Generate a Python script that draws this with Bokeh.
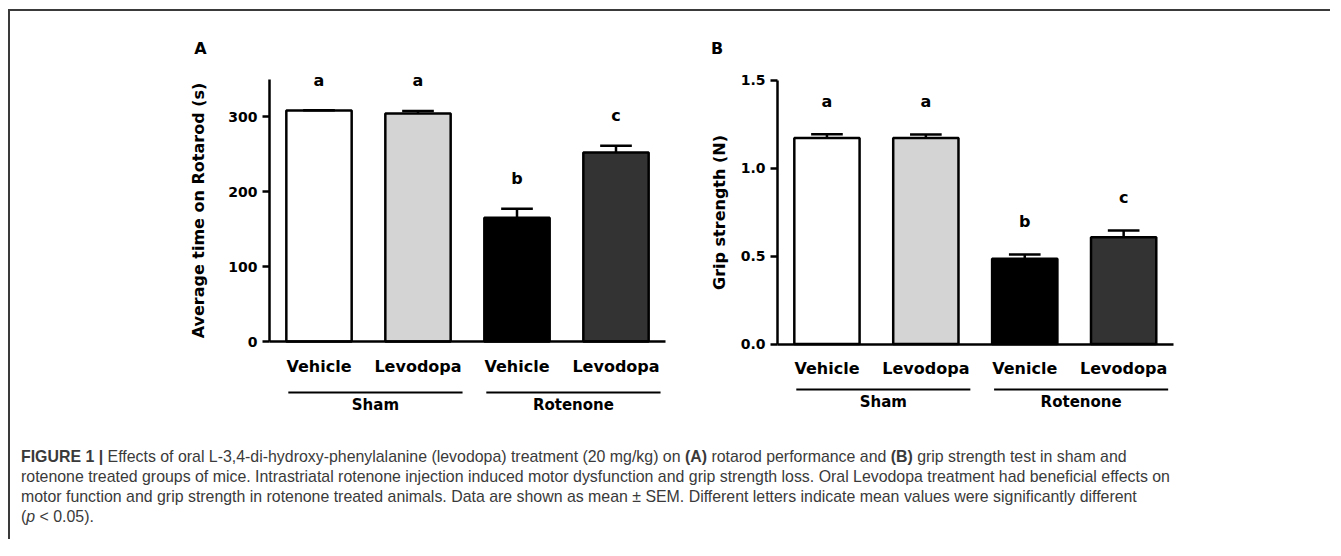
from bokeh.plotting import figure
from bokeh.models import FixedTicker, Div, Range1d
from bokeh.layouts import row, column
from bokeh.core.properties import value
from bokeh.embed import file_html
from bokeh.resources import INLINE

# ---------------- data ----------------
positions = [1, 2, 3, 4]
conditions_a = ["Vehicle", "Levodopa", "Vehicle", "Levodopa"]
conditions_b = ["Vehicle", "Levodopa", "Venicle", "Levodopa"]
groups = ["Sham", "Rotenone"]
group_members = [[1, 2], [3, 4]]
bar_colors = ["#ffffff", "#d4d4d4", "#000000", "#333333"]

rotarod_mean = [308, 304, 165, 252]
rotarod_sem = [0.5, 3.5, 12, 9]
rotarod_letters = ["a", "a", "b", "c"]
rotarod_ticks = [0, 100, 200, 300]
rotarod_tick_labels = ["0", "100", "200", "300"]
rotarod_max = 350

grip_mean = [1.17, 1.17, 0.485, 0.607]
grip_sem = [0.022, 0.02, 0.023, 0.038]
grip_letters = ["a", "a", "b", "c"]
grip_ticks = [0, 0.5, 1.0, 1.5]
grip_tick_labels = ["0.0", "0.5", "1.0", "1.5"]
grip_max = 1.5

caption_lines = [
    "<b>FIGURE 1 |</b> Effects of oral L-3,4-di-hydroxy-phenylalanine (levodopa) treatment (20 mg/kg) on <b>(A)</b> rotarod performance and <b>(B)</b> grip strength test in sham and",
    "rotenone treated groups of mice. Intrastriatal rotenone injection induced motor dysfunction and grip strength loss. Oral Levodopa treatment had beneficial effects on",
    "motor function and grip strength in rotenone treated animals. Data are shown as mean &plusmn; SEM. Different letters indicate mean values were significantly different",
    "(<i>p</i> &lt; 0.05).",
]

FONT = value("DejaVu Sans")
CANVAS_TOP = 11
CANVAS_H = 410


def make_panel(letter, canvas_left, canvas_w, axis_px, step_px, zero_px, unit_px,
               means, sems, letters, ticks, tick_labels, ymax, cats, ylabel,
               letter_off_px, line_off_px, label_off_px, letter_pos_px,
               tick_standoff, ylabel_standoff):
    x0 = 0.5 - (axis_px - canvas_left) / step_px
    x1 = 0.5 + (canvas_left + canvas_w - axis_px) / step_px
    y0 = -(CANVAS_TOP + CANVAS_H - zero_px) / unit_px
    y1 = (zero_px - CANVAS_TOP) / unit_px

    def dx(px):
        return 0.5 + (px - axis_px) / step_px

    def dy(py):
        return (zero_px - py) / unit_px

    p = figure(width=canvas_w, height=CANVAS_H, x_range=Range1d(x0, x1), y_range=Range1d(y0, y1),
               output_backend="svg", toolbar_location=None, min_border=0,
               min_border_left=0, min_border_right=0, min_border_top=0, min_border_bottom=0)
    p.outline_line_color = None
    p.xgrid.visible = False
    p.ygrid.visible = False
    p.background_fill_color = "white"
    p.border_fill_color = "white"

    # bars
    p.vbar(x=positions, top=means, bottom=0, width=0.66, fill_color=bar_colors,
           line_color="black", line_width=2.5)
    # error bars (upper only)
    tops = [m + s for m, s in zip(means, sems)]
    p.segment(x0=positions, y0=means, x1=positions, y1=tops, line_color="black", line_width=2.5)
    cap = 0.16
    p.segment(x0=[x - cap for x in positions], y0=tops, x1=[x + cap for x in positions], y1=tops,
              line_color="black", line_width=2.5)

    # significance letters
    p.text(x=positions, y=[t + letter_off_px / unit_px for t in tops], text=letters,
           text_font=FONT, text_font_style="bold", text_font_size="16px",
           text_align="center", text_baseline="middle", text_color="black")

    # panel letter
    p.text(x=[dx(letter_pos_px[0])], y=[dy(letter_pos_px[1])], text=[letter],
           text_font=FONT, text_font_style="bold", text_font_size="16px",
           text_align="center", text_baseline="middle", text_color="black")

    # group lines and labels
    gy_line = dy(zero_px + line_off_px)
    gy_lab = dy(zero_px + label_off_px)
    lx0 = [min(m) - 0.31 for m in group_members]
    lx1 = [max(m) + 0.45 for m in group_members]
    p.segment(x0=lx0, y0=[gy_line] * len(groups), x1=lx1, y1=[gy_line] * len(groups),
              line_color="black", line_width=2)
    p.text(x=[(a + b) / 2 for a, b in zip(lx0, lx1)], y=[gy_lab] * len(groups), text=groups,
           text_font=FONT, text_font_style="bold", text_font_size="15px",
           text_align="center", text_baseline="middle", text_color="black")

    # axes
    xa = p.xaxis[0]
    xa.fixed_location = 0
    xa.bounds = (0.5, 4.5)
    xa.ticker = FixedTicker(ticks=positions)
    xa.major_label_overrides = {pos: c for pos, c in zip(positions, cats)}
    xa.major_tick_line_color = None
    xa.minor_tick_line_color = None
    xa.major_tick_out = 0
    xa.major_tick_in = 0
    xa.axis_line_width = 2.5
    xa.axis_line_color = "black"
    xa.major_label_text_font = "DejaVu Sans"
    xa.major_label_text_font_style = "bold"
    xa.major_label_text_font_size = "16px"
    xa.major_label_text_color = "black"
    xa.major_label_standoff = 15

    ya = p.yaxis[0]
    ya.fixed_location = 0.5
    ya.bounds = (0, ymax)
    ya.ticker = FixedTicker(ticks=ticks)
    ya.major_label_overrides = {t: l for t, l in zip(ticks, tick_labels)}
    ya.minor_tick_line_color = None
    ya.major_tick_out = 7
    ya.major_tick_in = 0
    ya.major_tick_line_width = 2.5
    ya.axis_line_width = 2.5
    ya.axis_line_color = "black"
    ya.major_label_text_font = "DejaVu Sans"
    ya.major_label_text_font_style = "bold"
    ya.major_label_text_font_size = "14px"
    ya.major_label_text_color = "black"
    ya.major_label_standoff = tick_standoff
    ya.axis_label = ylabel
    ya.axis_label_text_font = "DejaVu Sans"
    ya.axis_label_text_font_style = "bold"
    ya.axis_label_text_font_size = "16px"
    ya.axis_label_text_color = "black"
    ya.axis_label_standoff = ylabel_standoff
    return p


pA = make_panel("A", 10, 670, 269, 99.0, 341.0, 0.75,
                rotarod_mean, rotarod_sem, rotarod_letters, rotarod_ticks, rotarod_tick_labels,
                rotarod_max, conditions_a, "Average time on Rotarod (s)",
                30, 51, 63, (200, 48), 5, 17)
pB = make_panel("B", 680, 650, 777, 98.9, 343.5, 176.0,
                grip_mean, grip_sem, grip_letters, grip_ticks, grip_tick_labels,
                grip_max, conditions_b, "Grip strength (N)",
                33, 45.5, 58, (716.7, 48), 5, 9)

cap_html = ("<div style=\"font-family:'Liberation Sans',Arial,sans-serif;font-size:15.9px;"
            "line-height:20px;color:#3a3a3a;white-space:nowrap;padding:25.7px 0 0 11px;\">"
            + "<br>".join(caption_lines) + "</div>")
caption = Div(text=cap_html, width=1320, height=118, margin=0)

layout = column(row(pA, pB), caption, margin=(9, 0, 0, 8),
                styles={"border-top": "2px solid #3a3a3a", "border-left": "2px solid #3a3a3a"})

open("out.html", "w").write(file_html(layout, INLINE))
